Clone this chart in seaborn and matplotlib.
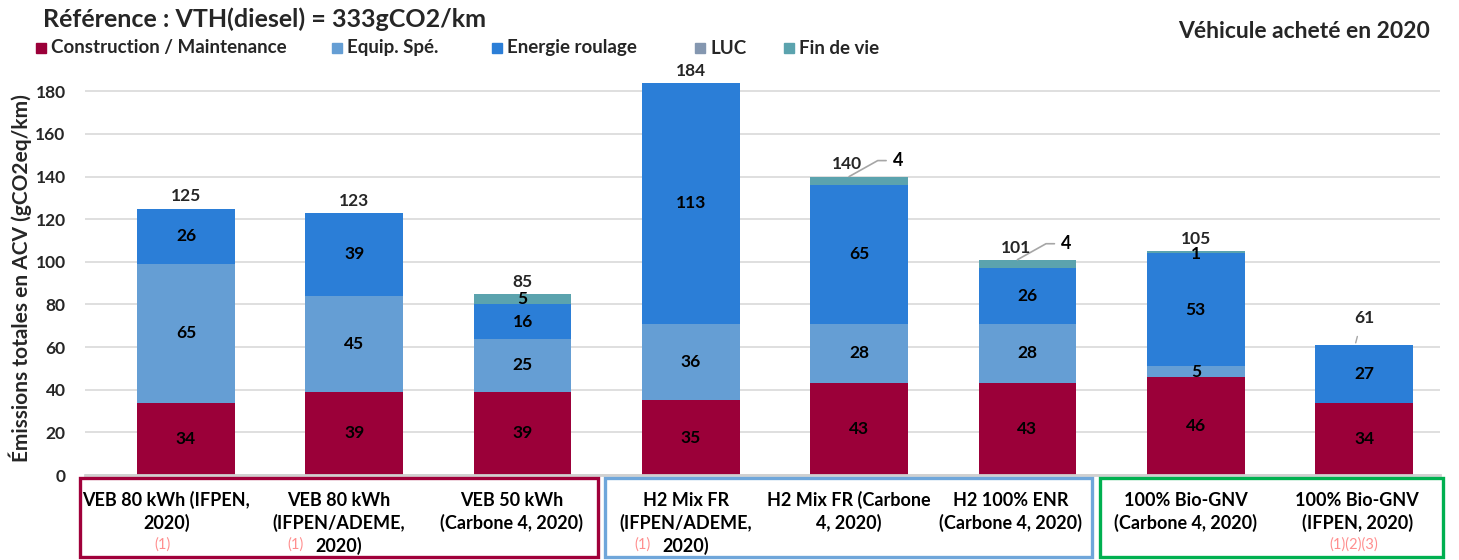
import numpy as np
import pandas as pd
import seaborn as sns
import matplotlib.pyplot as plt
from matplotlib.patches import Rectangle

# --- données ---
categories = [
    "VEB 80 kWh (IFPEN,\n2020)",
    "VEB 80 kWh\n(IFPEN/ADEME,\n2020)",
    "VEB 50 kWh\n(Carbone 4, 2020)",
    "H2 Mix FR\n(IFPEN/ADEME,\n2020)",
    "H2 Mix FR (Carbone\n4, 2020)",
    "H2 100% ENR\n(Carbone 4, 2020)",
    "100% Bio-GNV\n(Carbone 4, 2020)",
    "100% Bio-GNV\n(IFPEN, 2020)",
]
footnotes = ["(1)", "(1)", "", "(1)", "", "", "", "(1)(2)(3)"]
groups = [0, 0, 0, 1, 1, 1, 2, 2]

series_names = ["Construction / Maintenance", "Equip. Spé.", "Energie roulage", "LUC", "Fin de vie"]
construction = [34, 39, 39, 35, 43, 43, 46, 34]
equip = [65, 45, 25, 36, 28, 28, 5, 0]
energie = [26, 39, 16, 113, 65, 26, 53, 27]
luc = [0, 0, 0, 0, 0, 0, 0, 0]
fin_de_vie = [0, 0, 5, 0, 4, 4, 1, 0]

colors = ["#9B0039", "#659ED4", "#2B7ED7", "#8497B0", "#5BA3AE"]
group_colors = ["#A0003A", "#6FA6DA", "#00B050"]

# étiquettes "Fin de vie" sorties de la barre (avec trait de rappel)
outside_fin = [4, 5]
moved_total = [7]

sns.set_theme(style="white")
plt.rcParams['font.family'] = ['Lato', 'DejaVu Sans']
plt.rcParams['font.weight'] = 'bold'

W, H = 1459, 560
fig = plt.figure(figsize=(W / 100, H / 100), dpi=100)
ax = fig.add_axes([85 / W, 85 / H, 1355 / W, 405 / H])

layers = [construction, equip, energie, luc, fin_de_vie]
cum = np.cumsum(np.array(layers), axis=0)
n = len(categories)
idx = list(range(n))

# barres empilées : on dessine du haut vers le bas
for k in range(len(layers) - 1, -1, -1):
    df = pd.DataFrame({"cat": idx, "val": cum[k]})
    sns.barplot(data=df, x="cat", y="val", color=colors[k], saturation=1,
                width=0.58, linewidth=0, ax=ax, zorder=2)

ax.set_xlim(-0.6, 7.451)
ax.set_ylim(0, 190)
ax.set_yticks(range(0, 181, 20))
ax.yaxis.grid(True, color="#D9D9D9", lw=1.2, zorder=0)
ax.set_axisbelow(True)
for s in ["left", "right", "top"]:
    ax.spines[s].set_visible(False)
ax.spines["bottom"].set_color("#D0D0D0")
ax.spines["bottom"].set_linewidth(2)
ax.set_xticks([])
ax.set_xlabel("")
ax.set_ylabel("")
ax.tick_params(axis="y", length=0, pad=14, labelsize=12.5)
for t in ax.get_yticklabels():
    t.set_fontweight("bold")

# valeurs dans les segments
for k, vals in enumerate(layers):
    for i, v in enumerate(vals):
        if v == 0:
            continue
        if k == 4 and i in outside_fin:
            top = cum[k][i]
            ax.plot([i - 0.06, i + 0.11, i + 0.16], [top, top + 7.5, top + 7.5],
                    color="#A6A6A6", lw=1.2, zorder=3, clip_on=False)
            ax.text(i + 0.2, top + 7.5, str(v), ha="left", va="center",
                    fontsize=13, fontweight="bold", color="black")
            continue
        y = cum[k][i] - v / 2
        if k == 4 and v < 3:
            y = cum[k][i] - 1.5
        ax.text(i, y, str(v), ha="center", va="center", fontsize=12.5,
                fontweight="bold", color="black", zorder=4)

# totaux
totals = cum[-1]
for i, t in enumerate(totals):
    x = i - 0.07 if i in outside_fin else i
    if i in moved_total:
        ax.plot([i - 0.05, i - 0.04], [t + 1, t + 4], color="#A6A6A6", lw=1, clip_on=False)
        ax.annotate(str(t), (x, t), xytext=(0, 14), textcoords="offset points",
                    ha="center", va="bottom", fontsize=12.5, fontweight="bold")
    else:
        ax.annotate(str(t), (x, t), xytext=(0, 3), textcoords="offset points",
                    ha="center", va="bottom", fontsize=12.5, fontweight="bold",
                    annotation_clip=False)

# cadres des catégories
boxes = [(80, 598), (605, 1092), (1100, 1443)]
box_top, box_bot = 478, 557
for g, (x0, x1) in enumerate(boxes):
    fig.patches.append(Rectangle((x0 / W, 1 - box_bot / H), (x1 - x0) / W,
                                 (box_bot - box_top) / H, transform=fig.transFigure,
                                 fill=False, edgecolor=group_colors[g], lw=2.4))

line_y = [500, 523, 546]
for g, (x0, x1) in enumerate(boxes):
    members = [i for i in idx if groups[i] == g]
    step = (x1 - x0) / len(members)
    for j, i in enumerate(members):
        cx = x0 + step * (j + 0.5)
        lines = categories[i].split("\n")
        for li, txt in enumerate(lines):
            fig.text(cx / W, 1 - line_y[li] / H, txt, ha="center", va="center",
                     fontsize=13, fontweight="bold", color="black")
        if footnotes[i]:
            fx = cx - 44 if len(lines) == 3 else cx - 4
            fig.text(fx / W, 1 - 545 / H, footnotes[i], ha="center", va="center",
                     fontsize=10.5, fontweight="normal", color="#FF8F8F")

# titres
fig.text(43 / W, 1 - 19 / H, "Référence : VTH(diesel) = 333gCO2/km", ha="left",
         va="center", fontsize=18, fontweight="bold")
fig.text(1430 / W, 1 - 31 / H, "Véhicule acheté en 2020", ha="right",
         va="center", fontsize=16.5, fontweight="bold")
fig.text(20 / W, 1 - 278 / H, "Émissions totales en ACV (gCO2eq/km)", rotation=90,
         ha="center", va="center", fontsize=15, fontweight="bold")

# légende
leg_x = [41, 337, 497, 700, 789]
for k, name in enumerate(series_names):
    fig.patches.append(Rectangle(((leg_x[k] - 5) / W, 1 - 53 / H), 10 / W, 10 / H,
                                 transform=fig.transFigure, color=colors[k]))
    fig.text((leg_x[k] + 10) / W, 1 - 48 / H, name, ha="left", va="center",
             fontsize=13.5, fontweight="bold")

fig.savefig("out.png", dpi=100)
